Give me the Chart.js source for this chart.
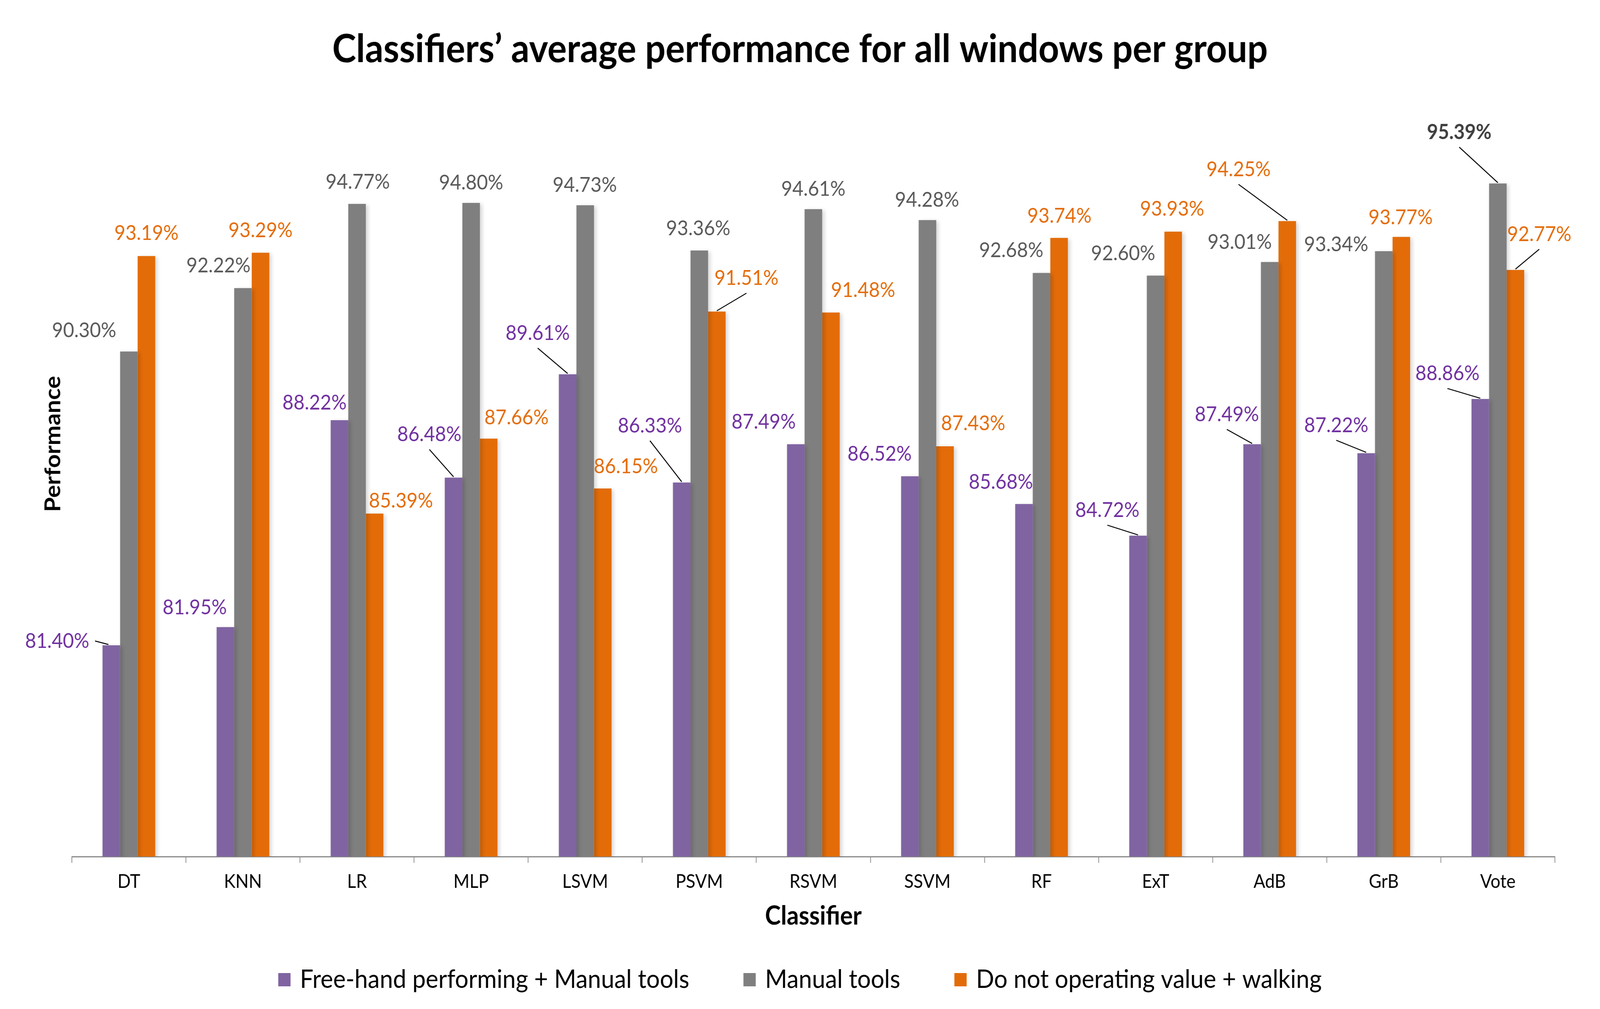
<!DOCTYPE html>
<html>
<head>
<meta charset="utf-8">
<script src="https://cdn.jsdelivr.net/npm/chart.js@4.4.1/dist/chart.umd.min.js"></script>
<style>
  html, body { margin: 0; padding: 0; background: #ffffff; overflow: hidden; }
</style>
</head>
<body>
<canvas id="c" width="4433" height="2582" style="display:block;width:100vw;height:100vh;"></canvas>
<script>
// ---------------- data ----------------
const categories = ['DT', 'KNN', 'LR', 'MLP', 'LSVM', 'PSVM', 'RSVM', 'SSVM', 'RF', 'ExT', 'AdB', 'GrB', 'Vote'];
const freeHandManualTools = [81.40, 81.95, 88.22, 86.48, 89.61, 86.33, 87.49, 86.52, 85.68, 84.72, 87.49, 87.22, 88.86];
const manualTools = [90.30, 92.22, 94.77, 94.80, 94.73, 93.36, 94.61, 94.28, 92.68, 92.60, 93.01, 93.34, 95.39];
const notOperatingWalking = [93.19, 93.29, 85.39, 87.66, 86.15, 91.51, 91.48, 87.43, 93.74, 93.93, 94.25, 93.77, 92.77];
const seriesNames = ['Free-hand performing + Manual tools', 'Manual tools', 'Do not operating value + walking'];
const titleText = 'Classifiers\u2019 average performance for all windows per group';
const xTitle = 'Classifier';
const yTitle = 'Performance';
const yMin = 75;
const yMax = 100;

// ---------------- label placement (style only) ----------------
// offset of each value label's centre from its bar's top-centre, in px
const labelOffsets = [
  [[-150,-10],[-85,-50],[-69,-44],[-67,-110],[-83,-105],[-88,-145],[-89,-57],[-84,-57],[-64,-56],[-85,-65],[-70,-76],[-83,-71],[-91,-65]],
  [[-124,-54],[-68,-57],[2,-56],[0,-51],[-1,-51],[-3,-56],[0,-51],[-1,-51],[-84,-57],[-90,-56],[-83,-51],[-132,-17],[-107,-131]],
  [[0,-58],[0,-57],[73,-32],[77,-54],[64,-56],[82,-85],[89,-57],[78,-58],[1,-56],[-3,-58],[-135,-132],[-2,-49],[66,-91]]
];
// leader lines: 'b' = from below the label, 'r' = from the right of the label
const leaderLines = [
  ['r',0,0,'b','b','b',0,0,0,'b','b','b','b'],
  [0,0,0,0,0,0,0,0,0,0,0,0,'b'],
  [0,0,0,0,0,'b',0,0,0,0,'b',0,'b']
];
const barColors = ['#8064A2', '#7F7F7F', '#E36C09'];
const labelColors = ['#7030A0', '#595959', '#E46C0A'];

const FONT = 'Lato';
const LABEL_SIZE = 53;

const chartTitle = {
  id: 'chartTitle',
  afterDraw(chart) {
    const ctx = chart.ctx;
    ctx.save();
    ctx.font = 'bold 100px ' + FONT;
    ctx.fillStyle = '#000000';
    ctx.textAlign = 'center';
    ctx.textBaseline = 'middle';
    ctx.fillText(titleText, chart.width / 2, 127);
    ctx.restore();
  }
};

const barShadow = {
  id: 'barShadow',
  beforeDatasetsDraw(chart) {
    const c = chart.ctx;
    c.save();
    c.shadowColor = 'rgba(0,0,0,0.16)';
    c.shadowBlur = 10;
    c.shadowOffsetX = 6;
    c.shadowOffsetY = 3;
  },
  afterDatasetsDraw(chart) {
    chart.ctx.restore();
  }
};

const valueLabels = {
  id: 'valueLabels',
  afterDraw(chart) {
    const ctx = chart.ctx;
    chart.data.datasets.forEach((ds, i) => {
      const meta = chart.getDatasetMeta(i);
      meta.data.forEach((bar, j) => {
        const off = labelOffsets[i][j];
        const lx = bar.x + off[0];
        const ly = bar.y + off[1];
        const text = ds.data[j].toFixed(2) + '%';
        const bold = (i === 1 && j === 12);
        ctx.save();
        ctx.font = (bold ? 'bold ' : '') + LABEL_SIZE + 'px ' + FONT;
        ctx.fillStyle = bold ? '#404040' : labelColors[i];
        ctx.textAlign = 'center';
        ctx.textBaseline = 'middle';
        ctx.fillText(text, lx, ly);
        const lead = leaderLines[i][j];
        if (lead) {
          ctx.strokeStyle = '#000000';
          ctx.lineWidth = 2.5;
          ctx.beginPath();
          if (lead === 'r') {
            const w = ctx.measureText(text).width;
            ctx.moveTo(lx + w / 2 + 16, ly - 1);
            ctx.lineTo(bar.x - 8, bar.y - 2);
          } else {
            ctx.moveTo(lx, ly + 38);
            ctx.lineTo(bar.x, bar.y - 2);
          }
          ctx.stroke();
        }
        ctx.restore();
      });
    });
  }
};

const bottomLegend = {
  id: 'bottomLegend',
  afterDraw(chart) {
    const ctx = chart.ctx;
    ctx.save();
    ctx.font = '66px ' + FONT;
    const box = 34, gap = 26, sep = 150;
    const items = chart.data.datasets.map(d => ({ t: d.label, c: d.backgroundColor, w: ctx.measureText(d.label).width }));
    const total = items.reduce((s, it) => s + box + gap + it.w, 0) + sep * (items.length - 1);
    let x = chart.width / 2 - total / 2;
    const y = chart.height - 75;
    items.forEach(it => {
      ctx.fillStyle = it.c;
      ctx.fillRect(x, y - box / 2, box, box);
      ctx.fillStyle = '#000000';
      ctx.textAlign = 'left';
      ctx.textBaseline = 'middle';
      ctx.fillText(it.t, x + box + gap, y);
      x += box + gap + it.w + sep;
    });
    ctx.restore();
  }
};

function draw() {
  new Chart(document.getElementById('c'), {
    type: 'bar',
    data: {
      labels: categories,
      datasets: [
        { label: seriesNames[0], data: freeHandManualTools, backgroundColor: barColors[0] },
        { label: seriesNames[1], data: manualTools, backgroundColor: barColors[1] },
        { label: seriesNames[2], data: notOperatingWalking, backgroundColor: barColors[2] }
      ]
    },
    options: {
      responsive: false,
      devicePixelRatio: 1,
      animation: false,
      datasets: { bar: { categoryPercentage: 0.462, barPercentage: 1.0, borderWidth: 0 } },
      layout: { padding: { top: 80, right: 125, bottom: 190, left: 0 } },
      plugins: {
        legend: { display: false },
        tooltip: { enabled: false },
        title: { display: false }
      },
      scales: {
        x: {
          offset: true,
          grid: { display: true, offset: true, drawOnChartArea: false, drawTicks: true, tickLength: 16, color: '#8a8a8a', lineWidth: 2 },
          border: { display: true, color: '#8a8a8a', width: 3 },
          ticks: { color: '#000000', font: { family: FONT, size: 48 }, padding: 20, maxRotation: 0, autoSkip: false },
          title: { display: true, text: xTitle, color: '#000000', font: { family: FONT, size: 66, weight: 'bold', lineHeight: 1.2 }, padding: { top: 0, bottom: 8 } },
          afterFit(s) { s.height = 200; }
        },
        y: {
          min: yMin,
          max: yMax,
          ticks: { display: false },
          grid: { display: false, drawTicks: false },
          border: { display: false },
          title: { display: true, text: yTitle, color: '#000000', font: { family: FONT, size: 61, weight: 'bold', lineHeight: 1.2 }, padding: { top: 111, bottom: 0 } },
          afterFit(s) { s.width = 199; }
        }
      }
    },
    plugins: [barShadow, valueLabels, bottomLegend, chartTitle]
  });
}

Promise.all([
  document.fonts.load('53px Lato'),
  document.fonts.load('bold 53px Lato'),
  document.fonts.load('bold 100px Lato'),
  document.fonts.load('66px Lato')
]).catch(() => {}).then(draw);
</script>
</body>
</html>
